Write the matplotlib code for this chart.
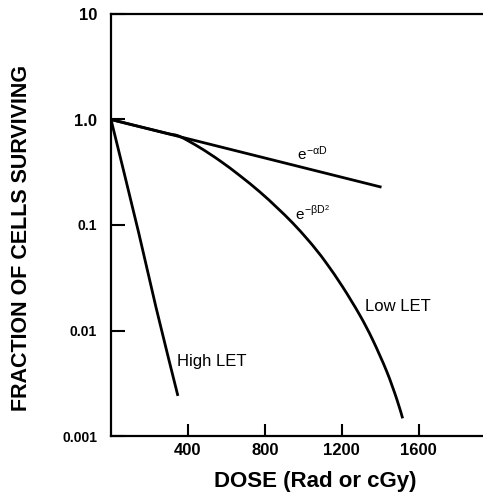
import matplotlib
matplotlib.use("Agg")
import numpy as np
import matplotlib.pyplot as plt
from matplotlib.path import Path
from matplotlib.patches import PathPatch

plt.rcParams['font.family'] = ['Liberation Sans', 'DejaVu Sans']
plt.rcParams['mathtext.fontset'] = 'custom'
plt.rcParams['mathtext.rm'] = 'Liberation Sans'
plt.rcParams['mathtext.it'] = 'Liberation Sans'

# Data
alpha_dose = [0, 1400]
alpha_surv = [1.0, 0.23]

low_let_dose = [0, 100, 203, 300, 358, 462, 566, 670, 774, 862, 945, 1018, 1070,
                1122, 1205, 1294, 1361, 1434, 1486, 1517]
low_let_surv = [1.0, 0.90, 0.81, 0.733, 0.69, 0.542, 0.407, 0.294, 0.206, 0.147, 0.1045,
                0.0746, 0.0574, 0.0431, 0.0259, 0.0140, 0.00817, 0.0041, 0.00225, 0.00147]

high_let_dose = [0, 145, 234, 348]
high_let_surv = [1.0, 0.083, 0.0166, 0.0024]

x_ticks = [400, 800, 1200, 1600]
x_ticklabels = ['400', '800', '1200', '1600']
y_ticks = [0.001, 0.01, 0.1, 1.0, 10]
y_ticklabels = ['0.001', '0.01', '0.1', '1.0', '10']


def smooth_curve(ax, xs, ys, **kw):
    """Draw a smooth Bezier curve through the data points (log-y space)."""
    x = np.asarray(xs, float)
    ly = np.log10(np.asarray(ys, float))
    pts = np.column_stack([x, ly])
    n = len(pts)
    verts = [pts[0]]
    codes = [Path.MOVETO]
    for i in range(n - 1):
        p0 = pts[i - 1] if i > 0 else pts[i]
        p1 = pts[i]
        p2 = pts[i + 1]
        p3 = pts[i + 2] if i + 2 < n else pts[i + 1]
        c1 = p1 + (p2 - p0) / 6.0
        c2 = p2 - (p3 - p1) / 6.0
        verts += [c1, c2, p2]
        codes += [Path.CURVE4] * 3
    verts = np.array(verts)
    verts[:, 1] = 10 ** verts[:, 1]
    patch = PathPatch(Path(verts, codes), fill=False, **kw)
    ax.add_patch(patch)


fig = plt.figure(figsize=(4.83, 4.98), dpi=100)
ax = fig.add_axes([111/483, 62/498, 372/483, 422/498])

ax.set_yscale('log')
ax.set_xlim(0, 1935)
ax.set_ylim(0.001, 10)

lw = 2.0
ax.plot(alpha_dose, alpha_surv, color='black', lw=lw)
smooth_curve(ax, low_let_dose, low_let_surv, edgecolor='black', lw=lw)
smooth_curve(ax, high_let_dose, high_let_surv, edgecolor='black', lw=lw)

ax.set_xticks(x_ticks)
ax.set_xticklabels(x_ticklabels, fontsize=12, fontweight='bold')
ax.set_yticks(y_ticks)
ax.set_yticklabels(y_ticklabels, fontweight='bold')
ax.yaxis.set_minor_locator(matplotlib.ticker.NullLocator())

for lab, t in zip(ax.get_yticklabels(), y_ticklabels):
    lab.set_fontsize(12 if t in ('1.0', '10') else 10)

ax.tick_params(axis='x', direction='in', length=9, width=1.5, pad=5)
ax.tick_params(axis='y', direction='in', length=10, width=1.5, pad=10)

ax.spines['right'].set_visible(False)
for s in ('left', 'top', 'bottom'):
    ax.spines[s].set_linewidth(1.6)

ax.set_xlabel('DOSE (Rad or cGy)', fontsize=16, fontweight='bold')
ax.xaxis.set_label_coords(0.55, -0.082)
ax.set_ylabel('FRACTION OF CELLS SURVIVING', fontsize=15.5, fontweight='bold')
ax.yaxis.set_label_coords(-0.212, 0.469)

ax.text(966, 0.47, r'$e^{-\alpha D}$', fontsize=11, ha='left', va='center')
ax.text(956, 0.127, r'$e^{-\beta D^2}$', fontsize=11, ha='left', va='center')
ax.text(1320, 0.017, 'Low LET', fontsize=12, ha='left', va='center')
ax.text(343, 0.0051, 'High LET', fontsize=12, ha='left', va='center')

fig.savefig('out.png', dpi=100)
